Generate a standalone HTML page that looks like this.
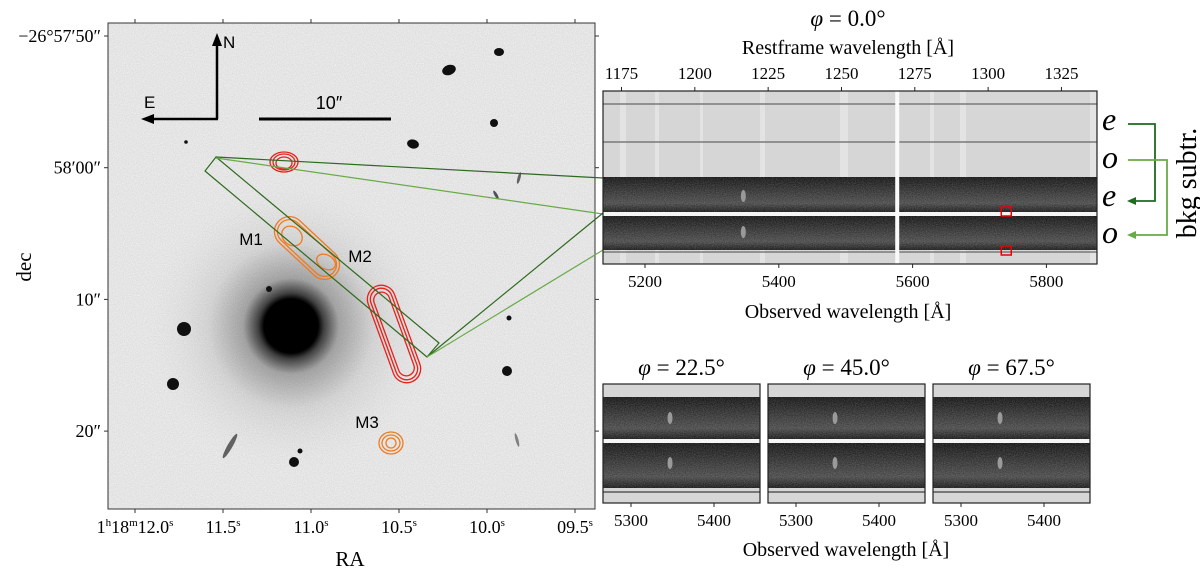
<!DOCTYPE html>
<html><head><meta charset="utf-8">
<style>
html,body{margin:0;padding:0;background:#fff;}
svg{display:block;font-family:"Liberation Serif","DejaVu Serif",serif;}
.sans{font-family:"Liberation Sans","DejaVu Sans",sans-serif;}
</style></head>
<body>
<svg id="fig" width="1200" height="580" viewBox="0 0 1200 580" xmlns="http://www.w3.org/2000/svg">
<defs>
  <filter id="grain" x="0" y="0" width="100%" height="100%">
    <feTurbulence type="fractalNoise" baseFrequency="0.9" numOctaves="2" seed="3"/>
    <feColorMatrix type="matrix" values="0 0 0 0 0  0 0 0 0 0  0 0 0 0 0  0 0 0 -0.9 0.75"/>
  </filter>
  <filter id="grainLight" x="0" y="0" width="100%" height="100%">
    <feTurbulence type="fractalNoise" baseFrequency="0.9" numOctaves="2" seed="7"/>
    <feColorMatrix type="matrix" values="0 0 0 0 1  0 0 0 0 1  0 0 0 0 1  0 0 0 0.9 -0.25"/>
  </filter>
  <radialGradient id="gal" cx="0.5" cy="0.5" r="0.5">
    <stop offset="0" stop-color="#000"/>
    <stop offset="0.18" stop-color="#000"/>
    <stop offset="0.22" stop-color="#444"/>
    <stop offset="0.32" stop-color="#aaa"/>
    <stop offset="0.55" stop-color="#dcdcdc"/>
    <stop offset="1" stop-color="#f0f0f0" stop-opacity="0"/>
  </radialGradient>
  <linearGradient id="bandShade" x1="0" y1="0" x2="0" y2="1">
    <stop offset="0" stop-color="#151515"/>
    <stop offset="0.5" stop-color="#3a3a3a"/>
    <stop offset="0.75" stop-color="#4a4a4a"/>
    <stop offset="1" stop-color="#1a1a1a"/>
  </linearGradient>
  <clipPath id="imgclip"><rect x="108" y="23" width="487" height="486"/></clipPath>
</defs>

<g>
  <rect x="108" y="23" width="487" height="486" fill="#f0f0f0"/>
  <g clip-path="url(#imgclip)">
    <circle cx="291" cy="326" r="150" fill="url(#gal)"/>
    <g fill="#111">
      <circle cx="184" cy="329" r="7"/>
      <circle cx="173" cy="384" r="6"/>
      <ellipse cx="449" cy="70" rx="7" ry="5" transform="rotate(-20 449 70)"/>
      <ellipse cx="499" cy="52" rx="5" ry="4"/>
      <circle cx="494" cy="123" r="4"/>
      <ellipse cx="413" cy="144" rx="6" ry="4.5" transform="rotate(15 413 144)"/>
      <circle cx="507" cy="371" r="5"/>
      <circle cx="509" cy="318" r="2.5"/>
      <circle cx="294" cy="462" r="5"/>
      <circle cx="300" cy="451" r="2.5"/>
      <circle cx="269" cy="289" r="3"/>
      <circle cx="186" cy="142" r="1.8"/>
      <ellipse cx="230" cy="446" rx="2.5" ry="14" transform="rotate(30 230 446)" fill="#666"/>
      <ellipse cx="519" cy="178" rx="1.5" ry="6" transform="rotate(15 519 178)" fill="#666"/>
      <ellipse cx="496" cy="195" rx="1.5" ry="5" transform="rotate(-30 496 195)" fill="#555"/>
      <ellipse cx="517" cy="440" rx="1.5" ry="7" transform="rotate(-15 517 440)" fill="#888"/>
    </g>
    <rect x="108" y="23" width="487" height="486" filter="url(#grain)" opacity="0.15"/>

    <g fill="none" stroke="#e8201a" stroke-width="1.3">
      <ellipse cx="284" cy="162" rx="14" ry="10"/>
      <ellipse cx="284" cy="162" rx="11" ry="8"/>
      <ellipse cx="284" cy="163" rx="8" ry="6"/>
      <g transform="rotate(-20 394 334)">
        <rect x="380" y="283" width="28" height="102" rx="14"/>
        <rect x="383" y="286" width="22" height="96" rx="11"/>
        <rect x="386" y="290" width="16" height="88" rx="8"/>
      </g>
    </g>
    <g fill="none" stroke="#f07a20" stroke-width="1.3">
      <g transform="rotate(43 307 248)">
        <rect x="268" y="233" width="78" height="30" rx="15"/>
        <rect x="271" y="236" width="72" height="24" rx="12"/>
      </g>
      <ellipse cx="292" cy="236" rx="11" ry="9" transform="rotate(40 292 236)"/>
      <ellipse cx="326" cy="262" rx="10" ry="7" transform="rotate(30 326 262)"/>
      <ellipse cx="391" cy="443" rx="12" ry="11"/>
      <ellipse cx="391" cy="443" rx="9" ry="8"/>
      <ellipse cx="391" cy="443" rx="5" ry="5"/>
    </g>
    <polygon points="216,157 205,171 427,357 439,343" fill="none" stroke="#2e6a1e" stroke-width="1.2"/>
  </g>
  <rect x="108" y="23" width="487" height="486" fill="none" stroke="#333" stroke-width="1"/>

  <g>
    <line x1="217" y1="119" x2="217" y2="44" stroke="#000" stroke-width="2.5"/>
    <polygon points="217,33 212,46 222,46" fill="#000"/>
    <line x1="218" y1="119" x2="152" y2="119" stroke="#000" stroke-width="2.5"/>
    <polygon points="141,119 154,114 154,124" fill="#000"/>
    <text x="223" y="48" class="sans" font-size="17">N</text>
    <text x="144" y="108" class="sans" font-size="17">E</text>
  </g>
  <g>
    <line x1="259" y1="119" x2="391" y2="119" stroke="#000" stroke-width="3"/>
    <text x="329" y="109" text-anchor="middle" class="sans" font-size="18">10″</text>
  </g>
  <g class="sans" font-size="17" fill="#000">
    <text x="251" y="245" text-anchor="middle">M1</text>
    <text x="360" y="262" text-anchor="middle">M2</text>
    <text x="367" y="428" text-anchor="middle">M3</text>
  </g>
  <g id="leftAxes"></g>
  <text x="31" y="267" font-size="21" text-anchor="middle" transform="rotate(-90 31 267)">dec</text>
  <text x="350" y="566" font-size="21" text-anchor="middle">RA</text>
</g>

<g stroke-width="1.2" fill="none">
  <line x1="216" y1="157" x2="603" y2="178" stroke="#2e6a1e"/>
  <line x1="216" y1="158" x2="603" y2="214" stroke="#6aaa48"/>
  <line x1="427" y1="357" x2="603" y2="213" stroke="#2e6a1e"/>
  <line x1="427" y1="357" x2="603" y2="250" stroke="#6aaa48"/>
</g>

<g id="specTop"></g>
<g id="specSmall"></g>

<g font-style="italic" font-size="32">
  <text x="1102" y="130">e</text>
  <text x="1102" y="168">o</text>
  <text x="1102" y="206">e</text>
  <text x="1102" y="243">o</text>
</g>
<g fill="none" stroke-width="1.8">
  <polyline points="1128,124 1155,124 1155,201 1134,201" stroke="#1e6a1e"/>
  <polygon points="1127,201 1136,197 1136,205" fill="#1e6a1e" stroke="none"/>
  <polyline points="1128,160 1167,160 1167,235 1134,235" stroke="#6aaa48"/>
  <polygon points="1127,235 1136,231 1136,239" fill="#6aaa48" stroke="none"/>
</g>
<text x="1196" y="183" font-size="28" text-anchor="middle" transform="rotate(-90 1196 183)">bkg subtr.</text>

<script>
const decTicks = ["\u221226\u00b057\u203250\u2033", "58\u203200\u2033", "10\u2033", "20\u2033"];
const decValues = [0, 10, 20, 30];
const raTicks = ["1h18m12.0s", "11.5s", "11.0s", "10.5s", "10.0s", "09.5s"];
const raValues = [12.0, 11.5, 11.0, 10.5, 10.0, 9.5];
const obsTicks = [5200, 5400, 5600, 5800];
const restTicks = [1175, 1200, 1225, 1250, 1275, 1300, 1325];
const smallObsTicks = [5300, 5400];
const phiAngles = [22.5, 45.0, 67.5];
const skyLine = 5577;
const lyaObs = 5347;
const contamObs = 5740;

const NS = "http://www.w3.org/2000/svg";
function mk(tag, attrs, parent){ const e=document.createElementNS(NS,tag); for(const k in attrs) e.setAttribute(k,attrs[k]); parent.appendChild(e); return e; }
function phiTitle(t, val){
  const p=mk('tspan',{'font-style':'italic'},t); p.textContent='\u03c6';
  t.appendChild(document.createTextNode(' = '+val+'\u00b0'));
}

const decY = v => 36 + v*13.17;
const raX = s => 135 + (12.0 - s)*176;
const la = document.getElementById('leftAxes');
decValues.forEach((v,i)=>{
  const y=decY(v);
  const t1=mk('line',{x1:108,y1:y,x2:104,y2:y,stroke:'#333'},la);
  
  
  mk('line',{x1:595,y1:y,x2:599,y2:y,stroke:'#333'},la);
  const t=mk('text',{x:101,y:y+6,'text-anchor':'end','font-size':18},la);
  t.textContent=decTicks[i];
  
  
});
raValues.forEach((s,i)=>{
  const x=raX(s);
  const t1=mk('line',{x1:x,y1:509,x2:x,y2:513,stroke:'#333'},la);
  
  
  mk('line',{x1:x,y1:23,x2:x,y2:19,stroke:'#333'},la);
  const t=mk('text',{x:x,y:533,'text-anchor':'middle','font-size':18},la);
  
  
  const lbl=raTicks[i];
  if(i===0){
    t.appendChild(document.createTextNode('1'));
    const a=mk('tspan',{'font-size':11,dy:-7},t); a.textContent='h';
    const b=mk('tspan',{dy:7},t); b.textContent='18';
    const c=mk('tspan',{'font-size':11,dy:-7},t); c.textContent='m';
    const d=mk('tspan',{dy:7},t); d.textContent='12.0';
    const e=mk('tspan',{'font-size':11,dy:-7},t); e.textContent='s';
  } else {
    t.appendChild(document.createTextNode(lbl.replace('s','')));
    const e=mk('tspan',{'font-size':11,dy:-7},t); e.textContent='s';
  }
});

function drawBands(g, x0, x1, bands){
  bands.forEach(b=>{
    const [type,y0,y1]=b;
    const r=mk('rect',{x:x0,y:y0,width:x1-x0,height:y1-y0,fill: type==='grey'?'#d6d6d6': type==='white'?'#f4f4f4':'url(#bandShade)'},g);
    
    
  });
}

const obsX = l => 645 + (l-5200)*0.669;
const restX = l => 621.5 + (l-1175)*2.933;
const st=document.getElementById('specTop');
const TX0=603, TX1=1097, TY0=91, TY1=264;
drawBands(st,TX0,TX1,[['grey',91,177],['dark',177,212],['white',212,216],['dark',216,250],['grey',250,264]]);
[[620,6],[655,4],[700,3],[760,5],[840,8],[930,4],[960,6],[1090,6]].forEach(s=>{
  mk('rect',{x:s[0],y:91,width:s[1],height:86,fill:'#e6e6e6',opacity:0.8},st);
  mk('rect',{x:s[0],y:250,width:s[1],height:14,fill:'#e6e6e6',opacity:0.8},st);
});
[104,142,252].forEach(y=>mk('line',{x1:TX0,y1:y,x2:TX1,y2:y,stroke:'#666','stroke-width':1.3},st));
mk('rect',{x:TX0,y:177,width:TX1-TX0,height:73,filter:'url(#grainLight)',opacity:0.35},st);
const sl=mk('rect',{x:obsX(skyLine)-2,y:91,width:4,height:173,fill:'#fafafa'},st);


[196,232].forEach(y=>{
  const c=mk('ellipse',{cx:obsX(lyaObs),cy:y,rx:2.5,ry:6,fill:'#999'},st);
  
  
});
[207,246].forEach(y=>{
  const r=mk('rect',{x:obsX(contamObs)-5,y:y,width:10,height:9,fill:'none',stroke:'#e00','stroke-width':1.5},st);
  
  
});
mk('rect',{x:TX0,y:TY0,width:TX1-TX0,height:TY1-TY0,fill:'none',stroke:'#222','stroke-width':1.2},st);
obsTicks.forEach(l=>{
  const x=obsX(l);
  mk('line',{x1:x,y1:TY1,x2:x,y2:TY1+4,stroke:'#222'},st);
  const t=mk('text',{x:x,y:287,'text-anchor':'middle','font-size':17},st);
  t.textContent=l;
  
  
});
restTicks.forEach(l=>{
  const x=restX(l);
  mk('line',{x1:x,y1:TY0,x2:x,y2:TY0-4,stroke:'#222'},st);
  const t=mk('text',{x:x,y:79,'text-anchor':'middle','font-size':17},st);
  t.textContent=l;
  
  
});
let tt=mk('text',{x:848,y:54,'text-anchor':'middle','font-size':20},st);
tt.textContent='Restframe wavelength  [Å]';


tt=mk('text',{x:848,y:318,'text-anchor':'middle','font-size':20},st);
tt.textContent='Observed wavelength  [Å]';


tt=mk('text',{x:848,y:26,'text-anchor':'middle','font-size':23},st);
phiTitle(tt,'0.0');



const ss=document.getElementById('specSmall');
const panelX0=[603,768,933], PW=157, SY0=384, SY1=503;
const smallX = (i,l) => panelX0[i] + 28 + (l-5300)*0.83;
phiAngles.forEach((phi,i)=>{
  const g=mk('g',{},ss);
  
  
  const x0=panelX0[i], x1=x0+PW;
  drawBands(g,x0,x1,[['grey',384,397],['dark',397,439],['white',439,443],['dark',443,488],['grey',488,503]]);
  mk('line',{x1:x0,y1:492,x2:x1,y2:492,stroke:'#777','stroke-width':2},g);
  mk('rect',{x:x0,y:397,width:PW,height:91,filter:'url(#grainLight)',opacity:0.35},g);
  [418,463].forEach(y=>{
    const e=mk('ellipse',{cx:smallX(i,lyaObs),cy:y,rx:2.5,ry:6,fill:'#9a9a9a'},g);
    
    
  });
  mk('rect',{x:x0,y:SY0,width:PW,height:SY1-SY0,fill:'none',stroke:'#222','stroke-width':1.2},g);
  smallObsTicks.forEach(l=>{
    const x=smallX(i,l);
    mk('line',{x1:x,y1:SY1,x2:x,y2:SY1+4,stroke:'#222'},g);
    const t=mk('text',{x:x,y:526,'text-anchor':'middle','font-size':17},g);
    t.textContent=l;
    
    
  });
  const t=mk('text',{x:x0+PW/2,y:375,'text-anchor':'middle','font-size':23},g);
  phiTitle(t, phi.toFixed(1));
  
  
});
tt=mk('text',{x:846,y:556,'text-anchor':'middle','font-size':20},ss);
tt.textContent='Observed wavelength  [Å]';


</script>
</svg>
</body></html>
